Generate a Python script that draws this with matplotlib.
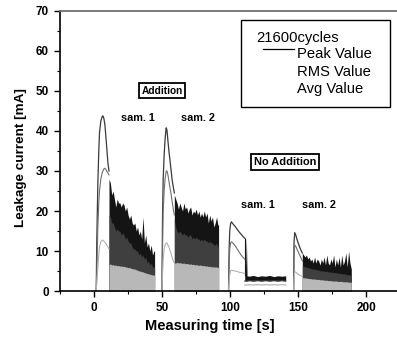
import numpy as np
import matplotlib
matplotlib.use('Agg')
import matplotlib.pyplot as plt
from matplotlib.patches import Rectangle

plt.rcParams['font.family'] = ['Liberation Sans', 'DejaVu Sans']

# ---- data (time [s], current [mA]) ----
# Addition, sam. 1 : start-up hump, then dense noisy part
add1_hump_t   = [1.6, 2.0, 2.8, 3.5, 4.0, 5.0, 6.0, 6.5, 7.2, 8.0, 8.5, 9.3, 10.2, 11.0]
add1_hump_pk  = [0, 12, 27, 35, 39.5, 42.5, 43.6, 43.8, 43.2, 41.5, 39.5, 36, 32, 30]
add1_hump_rms = [0, 4, 16, 22, 25, 28, 29.5, 30, 30.5, 30.7, 30.5, 30, 29.5, 29]
add1_hump_avg = [0, 2, 6, 9, 11, 12.3, 12.7, 12.7, 12.5, 12.2, 12, 11.5, 11, 10.5]
add1_t   = list(range(11, 45)) + [44.5]
add1_pk  = [28, 27, 24, 25, 23, 21, 23, 22, 22, 21, 22, 21.5, 20, 21, 19, 18, 19, 17,
            16.5, 17, 15, 16, 14, 15, 13, 18.5, 12, 14, 11, 12, 10, 11.5, 9, 10, 10]
add1_rms = [19, 18.5, 17, 17, 16, 15, 15.5, 15, 15, 14, 14.5, 14, 13, 13.5, 12.5, 12,
            12, 11, 10.5, 10.5, 10, 10, 9, 9.5, 8.5, 9, 8, 8.5, 7, 7.5, 6.5, 7, 6, 6, 6]
add1_avg = [6.5, 6.8, 6.5, 6.6, 6.4, 6.5, 6.3, 6.4, 6.2, 6.3, 6.1, 6.2, 6, 6, 5.8, 5.9,
            5.7, 5.6, 5.5, 5.5, 5.3, 5.2, 5, 5, 4.8, 4.8, 4.6, 4.5, 4.4, 4.3, 4.2, 4.1, 4, 4, 4]

# Addition, sam. 2
add2_hump_t   = [49.9, 50.3, 50.8, 51.5, 52.2, 53.0, 53.6, 54.3, 55.0, 55.7, 56.5, 57.3, 58.2, 59.0]
add2_hump_pk  = [0, 18, 28, 34, 38, 40.8, 40.2, 37.5, 35, 33, 30.5, 28, 26, 24.5]
add2_hump_rms = [0, 10, 20, 25, 28, 30, 30, 29, 27.5, 26, 24.5, 22.5, 20.5, 19]
add2_hump_avg = [0, 4, 8, 10.5, 11.5, 12, 12, 11.5, 11, 10.2, 9.5, 8.5, 7.5, 7]
add2_t   = list(range(59, 92)) + [91.5]
add2_pk  = [24, 23, 22, 20.5, 22, 21, 20, 22, 20.5, 21, 19.5, 20.5, 21, 19, 20, 19.5, 20.5,
            19, 20, 18.5, 19.5, 18.5, 20, 18.5, 19.5, 17, 19, 17.5, 18.5, 16, 17, 18.5, 16.5, 16.5]
add2_rms = [18, 16, 15, 14.5, 15, 14.5, 14, 14.5, 14, 14, 13.5, 14, 14, 13, 13.5, 13, 13.5,
            13, 13, 12.5, 13, 12.5, 13, 12.5, 12.5, 12, 12.5, 12, 12, 11.5, 11.5, 12, 11, 11]
add2_avg = [7, 7, 7.2, 7, 7.1, 7, 6.9, 7, 6.8, 6.9, 6.8, 6.7, 6.8, 6.6, 6.7, 6.5, 6.6, 6.5,
            6.4, 6.5, 6.4, 6.3, 6.4, 6.2, 6.3, 6.1, 6.2, 6, 6.1, 6, 6, 6, 5.9, 5.9]

# No Addition, sam. 1
no1_hump_t   = [98.8, 99.2, 99.7, 100.3, 100.9, 102, 103.5, 105, 106.5, 108, 109.5, 110.7]
no1_hump_pk  = [0, 10, 15, 16.8, 17.3, 16.8, 16.2, 15.5, 14.8, 14.2, 13.6, 13.2]
no1_hump_rms = [0, 6, 10.5, 12, 12.3, 12, 11.4, 10.6, 9.8, 9, 8.4, 8]
no1_hump_avg = [0, 2, 4, 5, 5.2, 5.1, 5, 4.9, 4.7, 4.6, 4.5, 4.4]
no1_t   = [110.7, 111.2, 111.9, 112.4, 114, 117, 120, 123, 126, 129, 132, 135, 138, 140.8]
no1_pk  = [3.8, 3.8, 13.6, 3.8, 3.7, 3.9, 3.6, 3.8, 3.7, 3.9, 3.6, 3.8, 3.7, 3.8]
no1_rms = [2.5, 2.5, 2.5, 2.5, 2.6, 2.5, 2.6, 2.5, 2.6, 2.5, 2.6, 2.5, 2.6, 2.5]
no1_avg = [1.5, 1.5, 1.5, 1.5, 1.6, 1.5, 1.6, 1.5, 1.6, 1.5, 1.6, 1.5, 1.6, 1.5]

# No Addition, sam. 2
no2_hump_t   = [146.6, 146.9, 147.4, 148.2, 149, 150, 151, 152, 153]
no2_hump_pk  = [0, 12, 14.6, 14, 13, 12, 11, 10.2, 9.5]
no2_hump_rms = [0, 8, 11.5, 11.2, 10.5, 9.8, 9, 8.3, 7.5]
no2_hump_avg = [0, 3, 4.8, 4.7, 4.5, 4.2, 4, 3.8, 3.6]
no2_t   = list(range(153, 190))
no2_pk  = [9.5, 9, 8.5, 9, 8, 8.5, 7.5, 8, 7, 8.5, 7, 8, 7.5, 6.5, 8, 7, 8.5, 6.5, 9, 7,
           6.5, 8, 7, 9, 6, 8, 6.5, 8.5, 6, 9, 6.5, 7.5, 9.5, 6, 10, 7, 5.5]
no2_rms = [6.5, 6.2, 6, 6, 5.8, 5.8, 5.6, 5.6, 5.4, 5.5, 5.3, 5.3, 5.2, 5, 5.1, 5, 5, 4.8,
           5, 4.8, 4.7, 4.8, 4.6, 4.7, 4.5, 4.6, 4.4, 4.5, 4.3, 4.4, 4.2, 4.3, 4.2, 4, 4.1, 4, 3.8]
no2_avg = [3.4, 3.3, 3.3, 3.2, 3.2, 3.1, 3.1, 3, 3, 3, 2.9, 2.9, 2.9, 2.8, 2.8, 2.8, 2.7,
           2.7, 2.7, 2.6, 2.6, 2.6, 2.5, 2.5, 2.5, 2.5, 2.4, 2.4, 2.4, 2.4, 2.3, 2.3, 2.3,
           2.3, 2.2, 2.2, 2.2]

x_ticks = [0, 50, 100, 150, 200]
y_ticks = [0, 10, 20, 30, 40, 50, 60, 70]

PK_C, RMS_C, AVG_C = '#141414', '#3f3f3f', '#b8b8b8'

fig = plt.figure(figsize=(3.97, 3.37), dpi=100)
ax = fig.add_axes([60/397, 46/337, 341/397, 280/337])


def segment(ht, hpk, hrms, havg, t, pk, rms, avg, band=False):
    if band:
        ax.fill_between(t, rms, pk, color=PK_C, lw=0)
        ax.plot(t, rms, color=RMS_C, lw=0.8)
        ax.plot(t, avg, color=AVG_C, lw=0.9)
        ax.vlines(ht[-1], pk[0], hpk[-1], color=PK_C, lw=0.8)
    else:
        ax.fill_between(t, 0, pk, color=PK_C, lw=0)
        ax.fill_between(t, 0, rms, color=RMS_C, lw=0)
        ax.fill_between(t, 0, avg, color=AVG_C, lw=0)
    ax.plot(ht, hpk, color='#3a3a3a', lw=0.9)
    ax.plot(ht, hrms, color='#6e6e6e', lw=0.8)
    ax.plot(ht, havg, color='#b0b0b0', lw=0.8)


segment(add1_hump_t, add1_hump_pk, add1_hump_rms, add1_hump_avg,
        add1_t, add1_pk, add1_rms, add1_avg)
segment(add2_hump_t, add2_hump_pk, add2_hump_rms, add2_hump_avg,
        add2_t, add2_pk, add2_rms, add2_avg)
segment(no1_hump_t, no1_hump_pk, no1_hump_rms, no1_hump_avg,
        no1_t, no1_pk, no1_rms, no1_avg, band=True)
segment(no2_hump_t, no2_hump_pk, no2_hump_rms, no2_hump_avg,
        no2_t, no2_pk, no2_rms, no2_avg)

ax.set_xlim(-25, 225.5)
ax.set_ylim(0, 70)
ax.set_xticks(x_ticks)
ax.set_yticks(y_ticks)
ax.set_xticks(np.arange(-25, 226, 25), minor=True)
ax.set_yticks(np.arange(0, 71, 5), minor=True)
ax.tick_params(which='major', direction='out', length=4, width=1, pad=4,
               labelsize=8.5)
ax.tick_params(which='minor', direction='out', length=2, width=0.8)
for lab in ax.get_xticklabels() + ax.get_yticklabels():
    lab.set_fontweight('bold')
ax.spines['right'].set_visible(False)
ax.spines['top'].set_color('#707070')
ax.spines['top'].set_linewidth(1.3)
ax.spines['left'].set_linewidth(1.2)
ax.spines['bottom'].set_linewidth(1.2)

fig.text(210/397, 1 - 326/337, 'Measuring time [s]', ha='center', va='center',
         fontsize=10.5, fontweight='bold')
fig.text(21/397, 1 - 158/337, 'Leakage current [mA]', ha='center', va='center',
         rotation=90, fontsize=9.7, fontweight='bold')

# legend drawn by hand
ax.add_patch(Rectangle((0.530, 0.658), 0.438, 0.310, transform=ax.transAxes,
                       fc='white', ec='black', lw=1.0, zorder=5))
ax.text(0.575, 0.905, '21600cycles', transform=ax.transAxes, va='center',
        fontsize=10.6, zorder=6)
ax.plot([0.595, 0.686], [0.8625, 0.8625], transform=ax.transAxes,
        color='black', lw=0.9, zorder=6)
for yy, name in [(0.846, 'Peak Value'), (0.783, 'RMS Value'), (0.720, 'Avg Value')]:
    ax.text(0.694, yy, name, transform=ax.transAxes, va='center',
            fontsize=10.6, zorder=6)

box = dict(boxstyle='square,pad=0.25', fc='white', ec='black', lw=1.3)
ax.text(50, 50.1, 'Addition', ha='center', va='center', fontsize=7.3,
        fontweight='bold', bbox=box)
ax.text(140.4, 32.25, 'No Addition', ha='center', va='center', fontsize=7.9,
        fontweight='bold', bbox=box)
for xx, yy, s in [(32, 43.2, 'sam. 1'), (76.5, 43.2, 'sam. 2'),
                  (120.2, 21.5, 'sam. 1'), (164.9, 21.5, 'sam. 2')]:
    ax.text(xx, yy, s, ha='center', va='center', fontsize=7.8, fontweight='bold')

plt.savefig('out.png', dpi=100)
